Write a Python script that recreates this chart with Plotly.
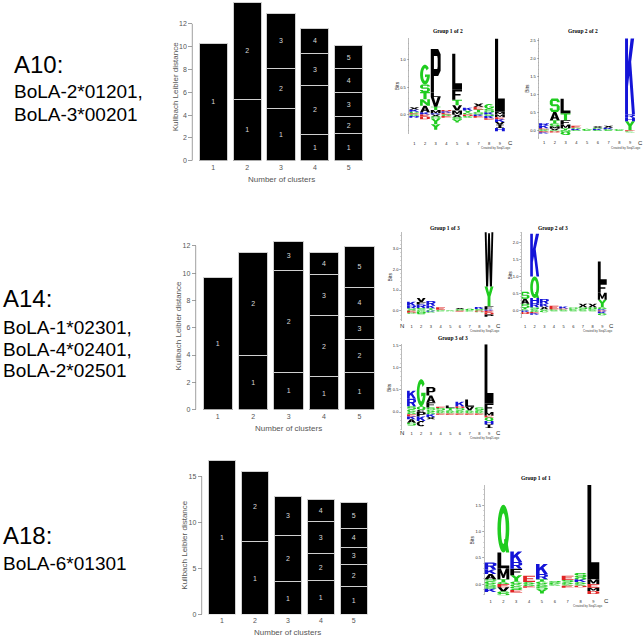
import math
import plotly.graph_objects as go

W, H = 643, 638


def fx(p):
    return p / W


def fy(p):
    return 1 - p / H


# ------------------------------------------------------------------ data
CLUSTERS = [1, 2, 3, 4, 5]
A10_KL = [[10.3], [5.4, 8.5], [4.6, 3.5, 4.8], [2.3, 4.3, 2.8, 2.2], [2.4, 1.45, 2.15, 2.06, 2.0]]
A14_KL = [[9.7], [4.0, 7.5], [2.74, 7.49, 2.07], [2.4, 4.5, 2.97, 1.63], [2.7, 2.46, 1.64, 2.17, 2.98]]
A18_KL = [[16.75], [7.9, 7.6], [3.56, 5.07, 4.24], [3.73, 2.85, 3.56, 2.36], [3.0, 2.39, 1.94, 2.03, 2.79]]
A10_YTICKS = [0, 2, 4, 6, 8, 10, 12]
A14_YTICKS = [0, 2, 4, 6, 8, 10, 12]
A18_YTICKS = [0, 5, 10, 15]
X_TITLE = "Number of clusters"
Y_TITLE = "Kullbach Leibler distance"

A10_TEXT = ["A10:", "BoLA-2*01201,", "BoLA-3*00201"]
A14_TEXT = ["A14:", "BoLA-1*02301,", "BoLA-4*02401,", "BoLA-2*02501"]
A18_TEXT = ["A18:", "BoLA-6*01301"]

LOGO_POSITIONS = [1, 2, 3, 4, 5, 6, 7, 8, 9]
LOGO_ENDS = ["N", "C"]
LOGO_CREDIT = "Created by Seq2Logo"

# sequence logo stacks: per position, (residue, bits) from the zero line outward
G1OF2_UP = [
    [("E", .02), ("G", .03), ("K", .04), ("X", .04)],
    [("K", .04), ("A", .12), ("N", .12), ("T", .13), ("S", .14), ("G", .36)],
    [("K", .02), ("M", .06), ("T", .06), ("V", .18), ("L", .08), ("P", .80)],
    [("E", .03), ("K", .03), ("D", .02)],
    [("M", .07), ("V", .10), ("T", .10), ("F", .18), ("L", .66)],
    [("G", .03), ("Y", .04), ("K", .05)],
    [("S", .04), ("T", .05), ("E", .05), ("X", .06)],
    [("K", .04), ("S", .06), ("G", .09)],
    [("M", .05), ("L", 1.34)],
]
G1OF2_DOWN = [
    [("G", .03), ("R", .03)],
    [("E", .04), ("D", .05)],
    [("X", .04), ("S", .04), ("Y", .10), ("Y", .10)],
    [("G", .03), ("E", .03)],
    [("X", .05), ("S", .05), ("Y", .05)],
    [("D", .03), ("G", .03)],
    [("K", .03), ("E", .03)],
    [("S", .03), ("K", .04), ("E", .03)],
    [("M", .05), ("E", .04), ("K", .05), ("V", .05), ("I", .06), ("H", .06)],
]
G2OF2_UP = [
    [("G", .03), ("E", .03), ("K", .08), ("R", .06)],
    [("V", .05), ("M", .06), ("S", .08), ("T", .09), ("A", .23), ("S", .38)],
    [("Y", .06), ("M", .10), ("F", .12), ("T", .20), ("L", .40)],
    [("K", .04), ("G", .03), ("E", .06)],
    [("G", .04)],
    [("K", .04), ("S", .03), ("X", .04)],
    [("G", .03), ("K", .04), ("X", .06)],
    [("G", .03)],
    [("Y", .25), ("H", .10), ("R", .10), ("K", 2.30)],
]
G2OF2_DOWN = [
    [("G", .03), ("E", .03), ("K", .03)],
    [("G", .03), ("D", .03)],
    [("N", .04), ("Q", .09)],
    [("G", .02)],
    [("G", .02)],
    [("G", .02)],
    [("G", .02)],
    [("G", .02)],
    [("E", .03), ("G", .03)],
]
G1OF3_UP = [
    [("G", .05), ("S", .07), ("R", .12), ("K", .20)],
    [("G", .06), ("S", .08), ("R", .16), ("F", .12), ("V", .20)],
    [("G", .05), ("T", .08), ("K", .12), ("R", .22)],
    [("G", .05), ("E", .12)],
    [("G", .03)],
    [("G", .04), ("S", .05), ("X", .05)],
    [("G", .04), ("Q", .06)],
    [("G", .04), ("S", .05), ("K", .09)],
    [("K", .06), ("F", .16), ("Y", .95), ("W", 2.90)],
]
G1OF3_DOWN = [
    [("E", .05), ("D", .04), ("G", .05)],
    [("G", .04), ("N", .06), ("S", .06)],
    [("K", .04), ("G", .05)],
    [("G", .03)],
    [("G", .02)],
    [("E", .03)],
    [("G", .03)],
    [("D", .04), ("G", .03)],
    [("E", .08), ("D", .10), ("P", .10)],
]
G2OF3_UP = [
    [("G", .04), ("T", .04), ("S", .12), ("A", .15), ("S", .20)],
    [("G", .04), ("S", .06), ("R", .12), ("H", .15), ("Q", .63), ("K", 1.26)],
    [("G", .04), ("X", .08), ("K", .08), ("R", .14)],
    [("G", .04), ("E", .10)],
    [("G", .04), ("D", .02), ("K", .06)],
    [("G", .04), ("S", .05)],
    [("G", .04), ("S", .06), ("X", .10)],
    [("G", .04), ("Q", .06), ("X", .10)],
    [("K", .04), ("G", .06), ("Y", .22), ("M", .20), ("F", .29), ("L", .63)],
]
G2OF3_DOWN = [
    [("K", .04), ("D", .06)],
    [("G", .04), ("E", .04), ("K", .04)],
    [("G", .05)],
    [("G", .02)],
    [("G", .02)],
    [("G", .02)],
    [("G", .02)],
    [("G", .02)],
    [("E", .03), ("K", .05), ("G", .06)],
]
G3OF3_UP = [
    [("G", .06), ("S", .07), ("R", .17), ("K", .18)],
    [("C", .05), ("Q", .08), ("G", .61)],
    [("G", .05), ("S", .05), ("F", .12), ("A", .15), ("P", .19)],
    [("G", .04), ("S", .05), ("E", .03)],
    [("G", .04), ("T", .05), ("L", .06)],
    [("G", .04), ("S", .05), ("D", .04), ("K", .10)],
    [("G", .04), ("V", .08), ("L", .16)],
    [("G", .04), ("S", .06)],
    [("F", .19), ("L", 1.33)],
]
G3OF3_DOWN = [
    [("G", .05), ("E", .05), ("K", .06), ("A", .08), ("S", .06)],
    [("P", .10), ("K", .10), ("C", .12)],
    [("G", .05), ("K", .06), ("X", .05)],
    [("G", .03), ("E", .03)],
    [("G", .03), ("E", .03)],
    [("G", .03), ("E", .03)],
    [("G", .03), ("E", .03)],
    [("G", .03), ("E", .03)],
    [("M", .08), ("E", .04), ("Q", .08), ("H", .08), ("I", .08)],
]
G1OF1_UP = [
    [("G", .05), ("S", .04), ("A", .10), ("K", .09), ("R", .13)],
    [("G", .04), ("T", .05), ("M", .21), ("L", .30), ("Q", .91)],
    [("G", .05), ("Y", .12), ("F", .12), ("R", .13), ("K", .20)],
    [("G", .04), ("E", .12)],
    [("G", .05), ("T", .04), ("R", .10), ("K", .19)],
    [("G", .03), ("S", .03)],
    [("G", .04), ("S", .04), ("E", .08)],
    [("G", .04), ("K", .05), ("Q", .04), ("S", .08)],
    [("M", .09), ("L", 1.80)],
]
G1OF1_DOWN = [
    [("G", .04), ("S", .05), ("K", .06)],
    [("E", .06), ("V", .08), ("S", .08)],
    [("G", .05), ("S", .06), ("E", .05)],
    [("G", .04), ("E", .03)],
    [("G", .04), ("S", .06), ("Y", .08)],
    [("G", .03)],
    [("G", .03), ("E", .04)],
    [("G", .03), ("D", .03)],
    [("E", .07), ("M", .06), ("D", .06)],
]

# ------------------------------------------------------------------ style / layout
SANS = "Liberation Sans, Arial, sans-serif"
SERIF = "Liberation Serif, Times New Roman, serif"
GREY = "#555555"

BAR_PANELS = [
    dict(data=A10_KL, yticks=A10_YTICKS, x0=196.35, x1=365.75, zero=160, ppu=11.5, top=0,
         axis_x=192.3, ytitle_x=175, ytitle_y=86, xtitle_y=179),
    dict(data=A14_KL, yticks=A14_YTICKS, x0=200.1, x1=377.2, zero=410.8, ppu=13.75, top=236,
         axis_x=195.7, ytitle_x=178, ytitle_y=327, xtitle_y=430),
    dict(data=A18_KL, yticks=A18_YTICKS, x0=205.5, x1=370.3, zero=617.3, ppu=9.27, top=455,
         axis_x=201.7, ytitle_x=185, ytitle_y=548, xtitle_y=635.5),
]

LOGOS = [
    dict(title="Group 1 of 2", up=G1OF2_UP, down=G1OF2_DOWN, ticks=[0, 0.5, 1.0], minor=0.1,
         axis_x=409, pos1=414.3, step=10.7, right=515, zero=113.3, ppb=55, top=36.7, bottom=133,
         label_y=141.7, title_xy=(448, 29)),
    dict(title="Group 2 of 2", up=G2OF2_UP, down=G2OF2_DOWN, ticks=[0, 0.5, 1.0, 1.5, 2.0, 2.5], minor=0.1,
         axis_x=539, pos1=544, step=10.75, right=643, zero=129.3, ppb=36, top=36.7, bottom=138.3,
         label_y=141.7, title_xy=(583, 29)),
    dict(title="Group 1 of 3", up=G1OF3_UP, down=G1OF3_DOWN, ticks=[0, 1.0, 2.0, 3.0], minor=0.2,
         axis_x=401.7, pos1=411.5, step=9.69, right=503, zero=311.3, ppb=21, top=232, bottom=321.7,
         label_y=326.7, title_xy=(445, 228)),
    dict(title="Group 2 of 3", up=G2OF3_UP, down=G2OF3_DOWN, ticks=[0, 0.5, 1.0, 1.5, 2.0], minor=0.1,
         axis_x=521.7, pos1=525, step=9.66, right=616, zero=311, ppb=34.3, top=231.7, bottom=318.3,
         label_y=326.7, title_xy=(553, 228)),
    dict(title="Group 3 of 3", up=G3OF3_UP, down=G3OF3_DOWN, ticks=[0, 0.5, 1.0, 1.5], minor=0.1,
         axis_x=401.7, pos1=411.5, step=9.69, right=503, zero=413.3, ppb=44.9, top=345, bottom=431.7,
         label_y=434, title_xy=(453, 339)),
    dict(title="Group 1 of 1", up=G1OF1_UP, down=G1OF1_DOWN, ticks=[0, 0.5, 1.0, 1.5], minor=0.1,
         axis_x=484.3, pos1=490.5, step=12.86, right=611, zero=586.7, ppb=53, top=486.7, bottom=598,
         label_y=604, title_xy=(536, 480)),
]

GREEN, BLUE, RED, BLACK = "#1fcc1f", "#1414d8", "#e02424", "#000000"


def residue_color(r):
    if r in "KRH":
        return BLUE
    if r in "DE":
        return RED
    if r in "STNQGY":
        return GREEN
    return BLACK


def arc(cx, cy, rx, ry, a0, a1, n):
    return [(cx + rx * math.cos(math.radians(a0 + (a1 - a0) * i / n)),
             cy + ry * math.sin(math.radians(a0 + (a1 - a0) * i / n))) for i in range(n + 1)]


RING_OUT = arc(.5, .5, .5, .5, 0, 360, 28)[:-1]
RING_IN = arc(.5, .5, .2, .32, 0, 360, 28)[:-1]

# glyph outlines in a unit box: list of parts, each part = list of polygons (even-odd filled)
GLYPHS = {
    "L": [[[(0, 0), (1, 0), (1, .18), (.32, .18), (.32, 1), (0, 1)]]],
    "T": [[[(0, 1), (1, 1), (1, .82), (.66, .82), (.66, 0), (.34, 0), (.34, .82), (0, .82)]]],
    "I": [[[(.1, 0), (.9, 0), (.9, .15), (.65, .15), (.65, .85), (.9, .85), (.9, 1), (.1, 1), (.1, .85),
            (.35, .85), (.35, .15), (.1, .15)]]],
    "F": [[[(0, 0), (.32, 0), (.32, .42), (.85, .42), (.85, .58), (.32, .58), (.32, .82), (1, .82), (1, 1),
            (0, 1)]]],
    "E": [[[(0, 0), (1, 0), (1, .18), (.32, .18), (.32, .42), (.85, .42), (.85, .58), (.32, .58), (.32, .82),
            (1, .82), (1, 1), (0, 1)]]],
    "H": [[[(0, 0), (.3, 0), (.3, .42), (.7, .42), (.7, 0), (1, 0), (1, 1), (.7, 1), (.7, .58), (.3, .58),
            (.3, 1), (0, 1)]]],
    "K": [[[(0, 0), (.3, 0), (.3, .34), (.42, .47), (.7, 0), (1, 0), (.62, .64), (1, 1), (.64, 1), (.3, .64),
            (.3, 1), (0, 1)]]],
    "V": [[[(0, 1), (.34, 0), (.66, 0), (1, 1), (.7, 1), (.5, .36), (.3, 1)]]],
    "Y": [[[(0, 1), (.34, .48), (.34, 0), (.66, 0), (.66, .48), (1, 1), (.68, 1), (.5, .7), (.32, 1)]]],
    "W": [[[(0, 1), (.17, 0), (.4, 0), (.5, .45), (.6, 0), (.83, 0), (1, 1), (.78, 1), (.7, .38), (.6, .88),
            (.4, .88), (.3, .38), (.22, 1)]]],
    "M": [[[(0, 0), (.25, 0), (.25, .6), (.42, .12), (.58, .12), (.75, .6), (.75, 0), (1, 0), (1, 1), (.72, 1),
            (.5, .42), (.28, 1), (0, 1)]]],
    "N": [[[(0, 0), (.27, 0), (.27, .56), (.72, 0), (1, 0), (1, 1), (.73, 1), (.73, .44), (.28, 1), (0, 1)]]],
    "X": [[[(0, 0), (.3, 0), (.5, .34), (.7, 0), (1, 0), (.67, .5), (1, 1), (.7, 1), (.5, .66), (.3, 1), (0, 1),
            (.33, .5)]]],
    "A": [[[(0, 0), (.3, 0), (.37, .22), (.63, .22), (.7, 0), (1, 0), (.65, 1), (.35, 1)],
           [(.42, .37), (.58, .37), (.5, .72)]]],
    "P": [[[(0, 0), (.32, 0), (.32, .38), (.75, .38), (1, .5), (1, .88), (.75, 1), (0, 1)],
           [(.32, .54), (.66, .54), (.7, .6), (.7, .78), (.66, .84), (.32, .84)]]],
    "R": [[[(0, 0), (.3, 0), (.3, .4), (.46, .4), (.7, 0), (1, 0), (.76, .44), (1, .56), (1, .88), (.75, 1),
            (0, 1)],
           [(.3, .56), (.66, .56), (.7, .62), (.7, .78), (.66, .84), (.3, .84)]]],
    "D": [[[(0, 0), (.7, 0), (1, .22), (1, .78), (.7, 1), (0, 1)],
           [(.3, .18), (.6, .18), (.7, .3), (.7, .7), (.6, .82), (.3, .82)]]],
    "S": [[[(1, .82), (.82, 1), (.18, 1), (0, .82), (0, .58), (.18, .42), (.7, .42), (.7, .18), (.3, .18),
            (.3, .28), (0, .28), (0, .18), (.18, 0), (.82, 0), (1, .18), (1, .42), (.82, .58), (.3, .58),
            (.3, .82), (.7, .82), (.7, .72), (1, .72)]]],
    "Q": [[RING_OUT, RING_IN], [[(.55, .28), (.8, .28), (1, 0), (.72, 0)]]],
    "C": [[arc(.5, .5, .5, .5, 45, 315, 20) + arc(.5, .5, .2, .32, 315, 45, 20)]],
    "G": [[arc(.5, .5, .5, .5, 40, 360, 22) + [(.5, .5), (.5, .36)] + arc(.5, .5, .2, .32, 340, 40, 22)]],
}

# ------------------------------------------------------------------ figure
fig = go.Figure()
layout = dict(width=W, height=H, margin=dict(l=0, r=0, t=0, b=0), paper_bgcolor="white",
              plot_bgcolor="white", showlegend=False, barmode="stack")
annotations = []
shapes = []


def ann(text, x, y, size, xanchor="center", yanchor="middle", color="#000", family=SANS, angle=0,
        xref="paper"):
    annotations.append(dict(text=text, x=fx(x) if xref == "paper" else x, y=fy(y), xref=xref, yref="paper",
                            xanchor=xanchor, yanchor=yanchor, showarrow=False, textangle=angle,
                            font=dict(size=size, color=color, family=family)))


# stacked KL bar charts
for i, p in enumerate(BAR_PANELS):
    sfx = "" if i == 0 else str(i + 1)
    for k in range(5):
        xs = [c for c, segs in zip(CLUSTERS, p["data"]) if len(segs) > k]
        ys = [segs[k] for segs in p["data"] if len(segs) > k]
        fig.add_trace(go.Bar(
            x=xs, y=ys, width=0.83, text=[str(k + 1)] * len(xs), textposition="inside",
            insidetextanchor="middle", textangle=0,
            textfont=dict(size=7, color="#d9d9d9", family=SANS),
            insidetextfont=dict(size=7, color="#d9d9d9", family=SANS),
            marker=dict(color="black", line=dict(color="#cfcfcf", width=1)),
            xaxis="x" + sfx, yaxis="y" + sfx, hoverinfo="skip"))
    ytop = (p["zero"] - p["top"]) / p["ppu"]
    layout["xaxis" + sfx] = dict(domain=[fx(p["x0"]), fx(p["x1"])], range=[0.5, 5.5], anchor="y" + sfx,
                                 tickvals=CLUSTERS, ticks="", showline=False, showgrid=False, zeroline=False,
                                 tickfont=dict(size=7, color=GREY, family=SANS), ticklabelstandoff=1)
    layout["yaxis" + sfx] = dict(domain=[fy(p["zero"]), fy(p["top"])], range=[0, ytop], anchor="free",
                                 position=fx(p["axis_x"]), tickvals=p["yticks"], ticks="outside", ticklen=4,
                                 tickwidth=0.8, tickcolor="#888", showline=False, showgrid=False,
                                 zeroline=False, tickfont=dict(size=7, color=GREY, family=SANS))
    shapes.append(dict(type="line", xref="paper", yref="y" + sfx, x0=fx(p["axis_x"]), x1=fx(p["axis_x"]),
                       y0=p["yticks"][0], y1=p["yticks"][-1], line=dict(color="#888", width=0.8)))
    ann(Y_TITLE, p["ytitle_x"], p["ytitle_y"], 8, color=GREY, angle=-90)
    ann(X_TITLE, (p["x0"] + p["x1"]) / 2, p["xtitle_y"], 8, color=GREY)

# allele labels on the left
ann(A10_TEXT[0], 12, 62.5, 24, xanchor="left")
ann(A10_TEXT[1], 12, 90.5, 19, xanchor="left")
ann(A10_TEXT[2], 12, 113.5, 19, xanchor="left")
ann(A14_TEXT[0], 1, 299, 24, xanchor="left")
for j, line in enumerate(A14_TEXT[1:]):
    ann(line, 1, 328 + 21.8 * j, 19, xanchor="left")
ann(A18_TEXT[0], 1, 538, 24, xanchor="left")
ann(A18_TEXT[1], 1, 566, 19, xanchor="left")


def add_glyph(letter, xc, w, y0, h, xa, ya):
    color = residue_color(letter)
    parts = GLYPHS.get(letter, [[[(0, 0), (1, 0), (1, 1), (0, 1)]]])
    for part in parts:
        path = ""
        for poly in part:
            pts = [f"{xc - w / 2 + u * w:.4f},{y0 + v * h:.5f}" for u, v in poly]
            path += "M" + " L".join(pts) + " Z "
        shapes.append(dict(type="path", path=path.strip(), xref=xa, yref=ya, fillcolor=color,
                           fillrule="evenodd", line=dict(width=0), layer="above"))


# sequence logos
for j, L in enumerate(LOGOS):
    n = str(4 + j)
    xa, ya = "x" + n, "y" + n
    fig.add_trace(go.Scatter(x=LOGO_POSITIONS, y=[0] * len(LOGO_POSITIONS), mode="markers",
                             marker=dict(opacity=0, size=1), xaxis=xa, yaxis=ya, hoverinfo="skip"))
    left = 1 - (L["pos1"] - L["axis_x"]) / L["step"]
    right = 1 + (L["right"] - L["pos1"]) / L["step"]
    ymax = (L["zero"] - L["top"]) / L["ppb"]
    ymin = -(L["bottom"] - L["zero"]) / L["ppb"]
    layout["xaxis" + n] = dict(domain=[fx(L["axis_x"]), min(1.0, fx(L["right"]))], range=[left, right],
                               anchor=ya, tickvals=LOGO_POSITIONS, ticks="", showline=False, showgrid=False,
                               zeroline=False, tickfont=dict(size=4, color="#222", family=SANS),
                               ticklabelstandoff=int(round(max(0, L["label_y"] - L["bottom"] - 3))))
    layout["yaxis" + n] = dict(domain=[fy(L["bottom"]), fy(L["top"])], range=[ymin, ymax], anchor=xa,
                               tickvals=L["ticks"], tickformat=".1f", ticks="outside", ticklen=2,
                               tickwidth=0.5, tickcolor="#777", showline=True, linecolor="#777",
                               linewidth=0.5, showgrid=False, zeroline=False,
                               tickfont=dict(size=4, color="#222", family=SANS),
                               minor=dict(ticks="outside", ticklen=1, tickwidth=0.4, tickcolor="#999",
                                          dtick=L["minor"]))
    for pos, up, down in zip(LOGO_POSITIONS, L["up"], L["down"]):
        y = 0.0
        for letter, h in up:
            add_glyph(letter, pos, 0.92, y, h, xa, ya)
            y += h
        y = 0.0
        for letter, h in down:
            y -= h
            add_glyph(letter, pos, 0.92, y, h, xa, ya)
    ann("<b>" + L["title"] + "</b>", L["title_xy"][0], L["title_xy"][1], 5.5, family=SERIF)
    ann("Bits", L["axis_x"] - 12, (L["top"] + L["bottom"]) / 2, 5, angle=-90, color="#222")
    ann(LOGO_ENDS[0], 0, L["label_y"], 6, xref=xa, color="#222")
    ann(LOGO_ENDS[1], 10, L["label_y"], 6, xref=xa, color="#222")
    ann(LOGO_CREDIT, 8.6, L["label_y"] + 5, 3, xref=xa, color="#444")

layout["annotations"] = annotations
layout["shapes"] = shapes
fig.update_layout(**layout)
fig.write_html("out.html", config={"displayModeBar": False, "staticPlot": True},
               post_script="document.body.style.margin='0px';document.body.style.overflow='hidden';")
